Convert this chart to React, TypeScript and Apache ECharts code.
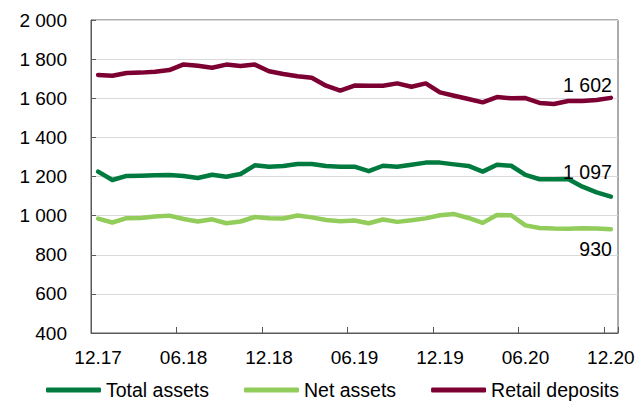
import React, { useEffect, useRef } from "react";
import * as echarts from "echarts";

// Monthly observations, December 2017 – December 2020
const months = [
  "12.17", "01.18", "02.18", "03.18", "04.18", "05.18", "06.18", "07.18", "08.18", "09.18", "10.18", "11.18",
  "12.18", "01.19", "02.19", "03.19", "04.19", "05.19", "06.19", "07.19", "08.19", "09.19", "10.19", "11.19",
  "12.19", "01.20", "02.20", "03.20", "04.20", "05.20", "06.20", "07.20", "08.20", "09.20", "10.20", "11.20",
  "12.20",
];

const totalAssets = [
  1225, 1182, 1203, 1204, 1206, 1208, 1203, 1192, 1209, 1199, 1213, 1257,
  1250, 1254, 1264, 1264, 1254, 1250, 1250, 1227, 1255, 1250, 1260, 1271,
  1271, 1262, 1254, 1225, 1260, 1255, 1208, 1186, 1186, 1187, 1148, 1119,
  1097,
];

const netAssets = [
  985, 965, 987, 988, 995, 1000, 983, 970, 981, 961, 970, 993,
  987, 985, 1001, 991, 978, 971, 975, 961, 980, 968, 976, 986,
  1002, 1008, 988, 963, 1003, 1002, 950, 937, 934, 933, 935, 934,
  930,
];

const retailDeposits = [
  1719, 1715, 1729, 1731, 1736, 1744, 1773, 1766, 1756, 1772, 1765, 1772,
  1738, 1724, 1712, 1705, 1664, 1639, 1665, 1664, 1664, 1676, 1659, 1676,
  1630, 1613, 1596, 1579, 1606, 1600, 1601, 1576, 1571, 1586, 1586, 1591,
  1602,
];

const seriesNames = ["Total assets", "Net assets", "Retail deposits"];
const seriesColors = ["#007a3f", "#92cc5a", "#7d0033"];

const FONT = "'Liberation Sans', Arial, sans-serif";

// Thousands separated by a space: 1602 -> "1 602"
const fmt = (v: number): string => {
  const s = String(Math.round(v));
  return s.replace(/\B(?=(\d{3})+(?!\d))/g, " ");
};

export default function App() {
  const ref = useRef<HTMLDivElement>(null);

  useEffect(() => {
    if (!ref.current) return;
    const chart = echarts.init(ref.current, undefined, { renderer: "svg" });

    // Line with its latest value written just above or below its end
    const lineSeries = (
      name: string,
      color: string,
      data: number[],
      labelDy: number
    ) => ({
      name,
      type: "line",
      data,
      symbol: "none",
      lineStyle: { color, width: 4.5, cap: "round", join: "round" },
      itemStyle: { color },
      emphasis: { disabled: true },
      endLabel: {
        show: true,
        distance: 0,
        align: "right",
        verticalAlign: "middle",
        offset: [1, labelDy],
        formatter: (p: any) => fmt(p.value),
        color: "#000",
        fontSize: 19.5,
        fontFamily: FONT,
      },
    });

    chart.setOption({
      animation: false,
      backgroundColor: "#ffffff",
      textStyle: { fontFamily: FONT },
      grid: {
        left: 91,
        right: 20,
        top: 20,
        bottom: 69,
        show: true,
        borderColor: "#595959",
        borderWidth: 1,
        backgroundColor: "transparent",
      },
      legend: {
        data: seriesNames,
        left: 41,
        top: 375,
        icon: "roundRect",
        itemWidth: 55,
        itemHeight: 5,
        itemGap: 35,
        textStyle: { color: "#000", fontSize: 19.5, fontFamily: FONT },
      },
      xAxis: {
        type: "category",
        data: months,
        boundaryGap: true,
        axisLine: { show: true, lineStyle: { color: "#595959", width: 1 } },
        axisTick: {
          show: true,
          interval: 5,
          inside: true,
          length: 6,
          lineStyle: { color: "#595959", width: 1 },
        },
        axisLabel: {
          interval: 5,
          margin: 15,
          color: "#000",
          fontSize: 19,
          fontFamily: FONT,
        },
        splitLine: { show: false },
      },
      yAxis: {
        type: "value",
        min: 400,
        max: 2000,
        interval: 200,
        axisLine: { show: true, lineStyle: { color: "#595959", width: 1 } },
        axisTick: {
          show: true,
          inside: true,
          length: 5,
          lineStyle: { color: "#595959", width: 1 },
        },
        axisLabel: {
          margin: 24,
          color: "#000",
          fontSize: 19,
          fontFamily: FONT,
          formatter: (v: number) => fmt(v),
        },
        splitLine: { show: true, lineStyle: { color: "#d9d9d9", width: 1 } },
      },
      series: [
        lineSeries(seriesNames[0], seriesColors[0], totalAssets, -25),
        lineSeries(seriesNames[1], seriesColors[1], netAssets, 20),
        lineSeries(seriesNames[2], seriesColors[2], retailDeposits, -13),
      ],
    });

    return () => chart.dispose();
  }, []);

  return (
    <div
      ref={ref}
      style={{ position: "fixed", left: 0, top: 0, width: 638, height: 402 }}
    />
  );
}
